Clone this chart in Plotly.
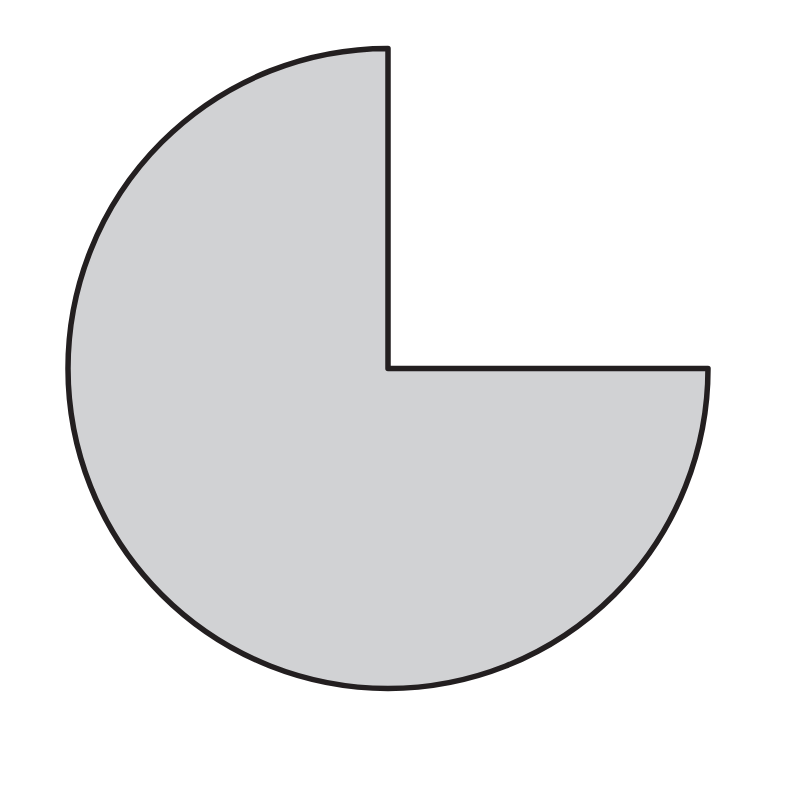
import plotly.graph_objects as go

labels = ["Missing", "Filled"]
values = [25, 75]
colors = ["rgba(255,255,255,0)", "#d1d2d4"]
line_colors = ["rgba(0,0,0,0)", "#231f20"]
line_widths = [0, 5.5]

fig = go.Figure(go.Pie(
    labels=labels,
    values=values,
    sort=False,
    direction="clockwise",
    rotation=0,
    marker=dict(colors=colors, line=dict(color=line_colors, width=line_widths)),
    textinfo="none",
    hoverinfo="none",
    showlegend=False,
    domain=dict(x=[0.075, 0.875], y=[0.15, 0.95]),
))
fig.update_layout(
    width=800, height=801,
    margin=dict(l=0, r=0, t=0, b=0),
    paper_bgcolor="white", plot_bgcolor="white",
)
fig.write_html("out.html")
